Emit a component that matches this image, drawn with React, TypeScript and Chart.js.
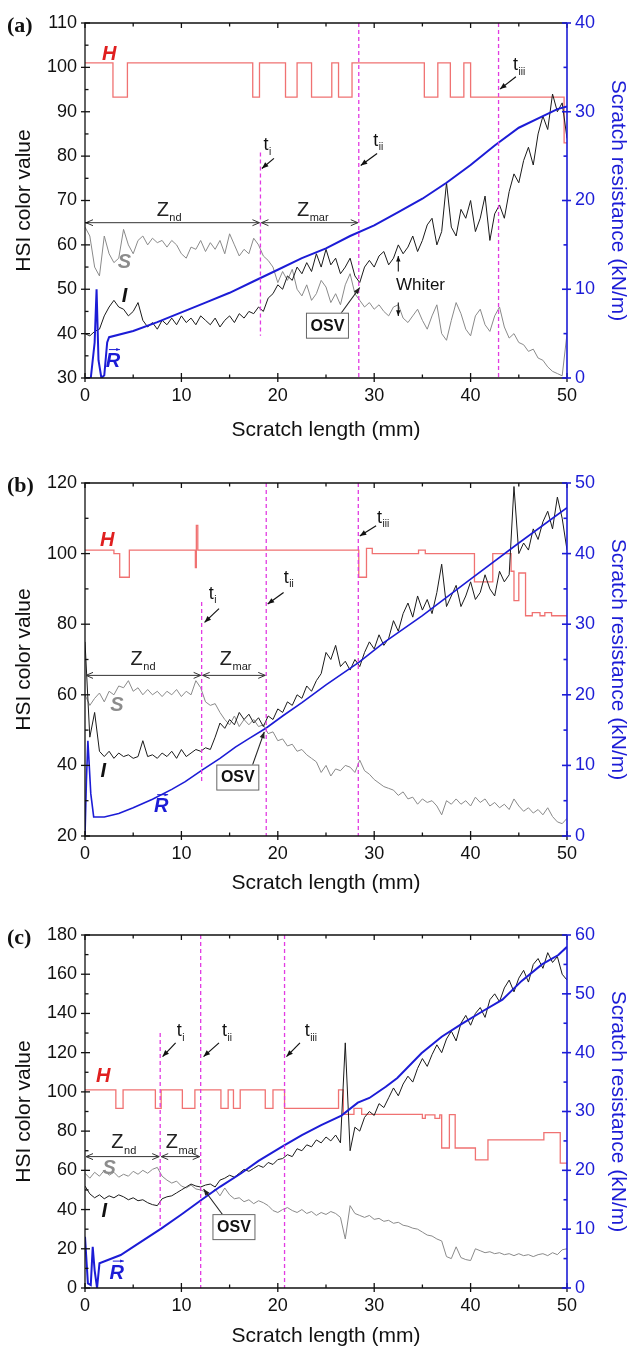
import React, { useEffect, useRef } from "react";
import { Chart, registerables } from "chart.js";
Chart.register(...registerables);

const FONT = '"Liberation Sans", Arial, sans-serif';
const BLUE = "#1c1cd6";
const RED_H = "#f07272";

// shared sampling positions along the scratch (mm)
const scratchMm = [
  0, 0.5, 1, 1.5, 2, 2.5, 3, 3.5, 4, 4.5,
  5, 5.5, 6, 6.5, 7, 7.5, 8, 8.5, 9, 9.5,
  10, 10.5, 11, 11.5, 12, 12.5, 13, 13.5, 14, 14.5,
  15, 15.5, 16, 16.5, 17, 17.5, 18, 18.5, 19, 19.5,
  20, 20.5, 21, 21.5, 22, 22.5, 23, 23.5, 24, 24.5,
  25, 25.5, 26, 26.5, 27, 27.5, 28, 28.5, 29, 29.5,
  30, 30.5, 31, 31.5, 32, 32.5, 33, 33.5, 34, 34.5,
  35, 35.5, 36, 36.5, 37, 37.5, 38, 38.5, 39, 39.5,
  40, 40.5, 41, 41.5, 42, 42.5, 43, 43.5, 44, 44.5,
  45, 45.5, 46, 46.5, 47, 47.5, 48, 48.5, 49, 49.5,
  50,
];

// ---------- panel (a) ----------
const hueA_x = [0, 2.9, 4.4, 17.4, 18.1, 20.8, 22.0, 23.5, 25.6, 26.3, 27.7, 35.2, 36.6, 37.9, 39.3, 40.0, 49.7, 50];
const hueA_y = [101, 93.3, 101, 93.3, 101, 93.3, 101, 93.3, 101, 93.3, 101, 93.3, 101, 93.3, 101, 93.3, 83, 83];
const satA = [
  64, 62, 55, 53, 62, 58, 56, 57, 63.5, 60,
  58, 61, 62, 60, 61.5, 60.5, 61, 59.5, 61, 60,
  58, 57, 59.5, 59, 61, 58.5, 60.5, 59, 61, 58,
  62.5, 60, 57.5, 59, 58, 61.5, 60, 57.5, 56.5, 55,
  51.5, 54, 52, 54.5, 50, 48.5, 51, 47.5, 49, 52,
  50.5, 47, 49, 46.5, 51, 53.5, 49, 47.5, 46, 47,
  45.5, 46.5, 45, 44, 46, 46.5, 43.5, 42.5, 44, 45.5,
  43, 41, 44, 46.5, 40, 38.5, 43, 47, 44.5, 41,
  39.5, 44, 45.5, 42, 40.5, 44, 46, 41.5, 39, 40,
  38, 37.5, 36, 36.5, 34.5, 34, 32.5, 31.5, 31, 30.5,
  40,
];
const intA = [
  40, 39.5, 40.5, 41, 44, 46, 47.5, 46, 45.5, 44,
  45, 47, 43, 41.5, 42.5, 41, 43, 42, 43.5, 42,
  44, 42.5, 43.5, 42, 44, 43, 42, 43.5, 41.5, 43,
  44, 42.5, 44.5, 43.5, 45, 44.5, 46, 45, 48, 49,
  51, 50, 53, 52, 55, 53.5, 56, 54, 58, 55,
  59, 55.5, 57, 53.5, 55, 57, 53, 51.5, 55, 56.5,
  55, 57.5, 58.5, 55.5, 57, 60, 58, 59.5, 62, 58.5,
  61, 64.5, 66, 60, 63, 74, 64, 62, 68, 66,
  70, 63, 66, 71, 61, 67, 69, 66, 72, 76,
  74, 79, 82, 78, 85, 89, 86, 94, 90, 92,
  84,
];
const resA_x = [0, 0.6, 1.0, 1.2, 1.4, 1.7, 2.0, 2.3, 2.5, 5, 7.5, 10, 12.5, 15, 17.5, 20, 22.5, 25, 27.5, 30, 32.5, 35, 37.5, 40, 42.5, 45, 47.5, 49, 50];
const resA_y = [0, 0, 4, 10, 2, 0, 0.3, 4, 4.6, 5.3, 6.3, 7.4, 8.5, 9.6, 10.9, 12.2, 13.5, 14.6, 16.0, 17.2, 18.7, 20.2, 22.0, 24.0, 26.2, 28.2, 29.5, 30.3, 30.6];

// ---------- panel (b) ----------
const hueB_x = [0, 3.0, 3.6, 4.6, 11.45, 11.55, 11.7, 28.4, 29.2, 29.8, 34.6, 35.3, 40.4, 42.3, 44.2, 44.5, 45.0, 45.7, 46.4, 47.2, 47.7, 48.4, 50];
const hueB_y = [101, 100, 93.3, 101, 96, 108, 101, 93.3, 101.5, 100, 101, 100, 92, 100, 95, 86.7, 94.5, 82.4, 83.3, 82.4, 83.3, 82.4, 82.4];
const satB = [
  60, 57, 59, 60.5, 58, 61, 60, 62.5, 62, 64,
  61, 62, 60, 61.5, 60, 61, 59.5, 61, 60, 61.5,
  59.5, 61, 60, 64, 62, 58, 57, 57.5, 55, 53,
  51.5, 54, 51, 53, 51.5, 53, 51, 51.5, 49, 49.5,
  47, 47.5, 45.5, 46, 44, 44.5, 43, 42, 41, 38,
  40, 37, 39, 38.5, 40, 39.5, 38, 41.5, 38.5, 37.5,
  36, 35, 34, 33.5, 33, 31.5, 32.5, 30.5, 31, 29,
  30.5, 29.5, 30, 28.5, 26, 30, 29, 30.5, 29, 30,
  28.5, 31, 29.5, 30.5, 28.5, 29.5, 28, 29, 27.5, 30.5,
  28.5, 27, 28, 26.5, 27.5, 26, 28, 25.5, 24, 23.5,
  25,
];
const intB = [
  75, 48, 55, 44, 42.5, 44, 42, 43.5, 42.5, 43,
  42, 42.5, 47, 42.5, 43, 42, 43.5, 42.5, 44, 42,
  44.5, 42.5, 43.5, 44.5, 44, 45, 44.5, 48, 52, 50.5,
  53, 51.5, 55, 53, 54.5, 52, 53.5, 51, 54, 53,
  56, 55, 58, 57, 60, 59, 62.5, 61, 64, 66,
  72, 70, 74, 68, 69.5, 67, 70, 68, 72, 75,
  73, 77, 74, 76, 81, 78, 83, 86, 82, 88,
  84, 87, 83, 89, 97, 85, 88, 91, 85, 88,
  92, 87, 89, 94, 90, 88, 95, 92, 94, 119,
  100, 103, 101, 107, 104, 109, 112, 107, 116, 110,
  101,
];
const resB_x = [0, 0.15, 0.3, 0.6, 0.9, 2.0, 3.5, 5, 7, 9, 10.4, 12.1, 14, 15.6, 17, 18.8, 20.5, 22.5, 25, 28.4, 31, 35, 40, 45, 50];
const resB_y = [0, 8, 13.5, 6, 2.7, 2.7, 3.2, 4.0, 5.2, 6.6, 7.7, 9.3, 11.0, 12.6, 13.8, 15.3, 17.0, 18.9, 21.4, 24.6, 27.4, 31.2, 36.4, 41.5, 46.5];

// ---------- panel (c) ----------
const hueC_x = [0, 3.2, 3.95, 7.3, 7.9, 10.1, 11.4, 14.1, 14.85, 15.4, 16.1, 18.7, 19.5, 20.7, 26.3, 26.8, 27.9, 28.7, 35.0, 35.3, 36.3, 36.8, 37.0, 37.8, 38.4, 40.5, 41.8, 47.6, 49.3, 50];
const hueC_y = [101, 91.6, 101, 91.6, 101, 91.6, 101, 91.6, 101, 91.6, 101, 91.6, 101, 91.6, 101, 88.5, 91.6, 88.5, 86.5, 88.3, 86.5, 88.3, 71.4, 88.4, 71.4, 65.3, 75.5, 79.2, 63.7, 63.7];
const satC = [
  58.5, 56, 59, 57, 60, 57.5, 59, 56.5, 58, 57,
  59.5, 58, 60, 58.5, 60.5, 61.5, 57, 55, 53.5, 54.5,
  52, 51, 52.5, 50.5, 50, 49, 48, 50.5, 47, 51,
  47.5, 45.5, 46, 44, 45, 43, 44.5, 43.5, 42, 39.5,
  38.5, 40, 41, 39.5, 38.5, 40, 38, 39, 37, 38.5,
  37.5, 39, 38, 36, 25, 42, 38, 37, 36, 37,
  35, 35.5, 34, 34.5, 33, 33.5, 32, 31.5, 30.5, 30,
  28.5, 27, 26.5, 25, 24, 16, 15, 21, 15.5, 14.5,
  14, 20, 19, 18, 18.5, 17.5, 18, 17, 17.5, 16.5,
  17.5, 16.5, 17, 16, 17, 17.5, 16.5, 18, 17, 19.5,
  20,
];
const intC = [
  52, 48, 46, 47.5, 45.5, 47, 46, 47.5, 46.5, 45,
  46, 44.5, 45, 43.5, 42.5, 42, 45.5, 46.5, 47, 48.5,
  50, 51.5, 53, 52, 51.5, 52.5, 53, 51.5, 55, 56,
  57.5, 56.5, 58.5, 60.5, 59.5, 61, 62.5, 61.5, 64, 63,
  65.5, 66, 68, 67, 71, 70, 73, 72, 75.5, 74,
  77, 75, 78, 74, 125, 70, 82, 80, 87, 90,
  88, 94, 92, 97, 102, 98, 104, 108, 105, 112,
  117, 113, 119, 124, 120, 127, 131, 126, 135, 139,
  134, 140, 143, 138, 147, 150, 146, 153, 157, 151,
  158, 162, 156, 165, 168, 163, 171, 166, 169, 160,
  157,
];
const resC_x = [0, 0.3, 0.6, 0.8, 1.0, 1.25, 1.5, 3.7, 5, 7.9, 10, 12.1, 14, 16.2, 18, 20.4, 22.5, 24.5, 26.6, 28.3, 29.5, 31.2, 32.4, 34.9, 37, 39, 41.2, 43.3, 45.3, 47.4, 49.1, 50];
const resC_y = [8.7, 0.8, 0.5, 7, 3, 0, 4.2, 5.6, 7.0, 10.1, 12.5, 15.0, 17.2, 19.5, 21.6, 24.0, 26.0, 27.7, 29.3, 31.5, 32.3, 34.2, 35.7, 39.9, 42.7, 44.8, 47.0, 49.0, 52.2, 55.0, 56.6, 58.0];

// ---------- layout / annotation configs ----------
const panels = [
  {
    tag: "(a)", top: 0, height: 445, xAxisH: 67, titlePad: 4.5,
    yMin: 30, yMax: 110, yStep: 10, rMax: 40, rWidth: 2,
    hx: hueA_x, hy: hueA_y, s: satA, i: intA, rx: resA_x, ry: resA_y,
    ann: {
      markers: [{ x: 18.2, top: 80.8, bottom: 39.5 }, { x: 28.4, top: 110, bottom: 30 }, { x: 42.9, top: 110, bottom: 30 }],
      tLabels: [
        { sub: "i", x: 18.9, y: 82.5, ax0: 19.6, ay0: 79.5, ax1: 18.35, ay1: 77.2 },
        { sub: "ii", x: 30.4, y: 83.5, ax0: 30.3, ay0: 80.6, ax1: 28.6, ay1: 77.9 },
        { sub: "iii", x: 45.0, y: 100.5, ax0: 44.7, ay0: 97.9, ax1: 43.05, ay1: 95.1 },
      ],
      zones: [
        { x0: 0, x1: 18.2, y: 65, sub: "nd", lx: 8.7, ly: 67.8 },
        { x0: 18.2, x1: 28.4, y: 65, sub: "mar", lx: 23.6, ly: 67.8 },
      ],
      names: { h: [2.5, 103], s: [4.1, 56], i: [4.1, 48.3], r: [2.9, 33.7] },
      osv: { bx: 25.1, by: 41.9, fx: 26.3, fy: 43.8, tx: 28.5, ty: 50.4 },
      whiter: { x: 34.8, y: 51, ax: 32.5, up: [54, 57.5], down: [47, 44] },
    },
  },
  {
    tag: "(b)", top: 460, height: 440, xAxisH: 64, titlePad: 6.5,
    yMin: 20, yMax: 120, yStep: 20, rMax: 50, rWidth: 1.6,
    hx: hueB_x, hy: hueB_y, s: satB, i: intB, rx: resB_x, ry: resB_y,
    ann: {
      markers: [{ x: 12.1, top: 86.3, bottom: 35.5 }, { x: 18.8, top: 120, bottom: 20 }, { x: 28.35, top: 120, bottom: 20 }],
      tLabels: [
        { sub: "i", x: 13.2, y: 88.6, ax0: 13.9, ay0: 84.4, ax1: 12.4, ay1: 80.5 },
        { sub: "ii", x: 21.1, y: 93.2, ax0: 20.6, ay0: 89, ax1: 18.95, ay1: 85.7 },
        { sub: "iii", x: 30.9, y: 110.2, ax0: 30.2, ay0: 107.9, ax1: 28.5, ay1: 105 },
      ],
      zones: [
        { x0: 0, x1: 12.1, y: 65.5, sub: "nd", lx: 6.0, ly: 70 },
        { x0: 12.1, x1: 18.8, y: 65.5, sub: "mar", lx: 15.6, ly: 70 },
      ],
      names: { h: [2.3, 103.6], s: [3.3, 57], i: [1.9, 38.2], r: [7.9, 28.3] },
      osv: { bx: 15.8, by: 36.7, fx: 17.3, fy: 39.5, tx: 18.6, ty: 49.5 },
      whiter: null,
    },
  },
  {
    tag: "(c)", top: 912, height: 435, xAxisH: 59, titlePad: 0,
    yMin: 0, yMax: 180, yStep: 20, rMax: 60, rWidth: 2,
    hx: hueC_x, hy: hueC_y, s: satC, i: intC, rx: resC_x, ry: resC_y,
    ann: {
      markers: [{ x: 7.8, top: 130, bottom: 30 }, { x: 12.0, top: 180, bottom: 0 }, { x: 20.7, top: 180, bottom: 0 }],
      tLabels: [
        { sub: "i", x: 9.9, y: 131, ax0: 9.4, ay0: 125, ax1: 8.05, ay1: 118 },
        { sub: "ii", x: 14.7, y: 131, ax0: 13.9, ay0: 125, ax1: 12.3, ay1: 118 },
        { sub: "iii", x: 23.4, y: 131, ax0: 22.3, ay0: 125, ax1: 20.9, ay1: 118 },
      ],
      zones: [
        { x0: 0, x1: 7.8, y: 67, sub: "nd", lx: 4.0, ly: 74 },
        { x0: 7.8, x1: 12.0, y: 67, sub: "mar", lx: 10.0, ly: 74 },
      ],
      names: { h: [1.9, 107.8], s: [2.5, 61], i: [2.0, 38.9], r: [3.3, 7.6] },
      osv: { bx: 15.4, by: 31.3, fx: 14.3, fy: 37.2, tx: 12.3, ty: 50.5 },
      whiter: null,
    },
  },
];

function line(ctx: CanvasRenderingContext2D, x0: number, y0: number, x1: number, y1: number) {
  ctx.beginPath();
  ctx.moveTo(x0, y0);
  ctx.lineTo(x1, y1);
  ctx.stroke();
}

function arrow(ctx: CanvasRenderingContext2D, x0: number, y0: number, x1: number, y1: number, head = 7) {
  line(ctx, x0, y0, x1, y1);
  const a = Math.atan2(y1 - y0, x1 - x0);
  ctx.beginPath();
  ctx.moveTo(x1, y1);
  ctx.lineTo(x1 - head * Math.cos(a - 0.38), y1 - head * Math.sin(a - 0.38));
  ctx.lineTo(x1 - head * Math.cos(a + 0.38), y1 - head * Math.sin(a + 0.38));
  ctx.closePath();
  ctx.fill();
}

function openHead(ctx: CanvasRenderingContext2D, x: number, y: number, dir: number) {
  const h = 7;
  line(ctx, x, y, x - dir * h, y - 3);
  line(ctx, x, y, x - dir * h, y + 3);
}

function subText(ctx: CanvasRenderingContext2D, main: string, sub: string, cx: number, cy: number, size: number, subSize: number) {
  ctx.font = `${size}px ${FONT}`;
  const w1 = ctx.measureText(main).width;
  ctx.font = `${subSize}px ${FONT}`;
  const w2 = ctx.measureText(sub).width;
  const x0 = cx - (w1 + w2) / 2;
  ctx.textAlign = "left";
  ctx.textBaseline = "middle";
  ctx.font = `${size}px ${FONT}`;
  ctx.fillText(main, x0, cy);
  ctx.font = `${subSize}px ${FONT}`;
  ctx.fillText(sub, x0 + w1 + 0.5, cy + size * 0.38);
}

function decorPlugin(p: any) {
  return {
    id: "decor",
    afterDatasetsDraw(chart: any) {
      const ctx: CanvasRenderingContext2D = chart.ctx;
      const xs = chart.scales.x, ys = chart.scales.y;
      const X = (v: number) => xs.getPixelForValue(v);
      const Y = (v: number) => ys.getPixelForValue(v);
      const a = p.ann;
      ctx.save();
      ctx.strokeStyle = "#e23be2";
      ctx.lineWidth = 1.3;
      ctx.setLineDash([4, 3]);
      for (const m of a.markers) line(ctx, X(m.x), Y(m.top), X(m.x), Y(m.bottom));
      ctx.setLineDash([]);

      ctx.fillStyle = "#111";
      ctx.strokeStyle = "#111";
      ctx.lineWidth = 1.2;
      for (const t of a.tLabels) {
        subText(ctx, "t", t.sub, X(t.x), Y(t.y), 18, 10);
        arrow(ctx, X(t.ax0), Y(t.ay0), X(t.ax1), Y(t.ay1), 7);
      }

      ctx.strokeStyle = "#333";
      ctx.fillStyle = "#222";
      ctx.lineWidth = 1;
      for (const z of a.zones) {
        const x0 = X(z.x0) + 1, x1 = X(z.x1) - 1, y = Y(z.y);
        line(ctx, x0, y, x1, y);
        openHead(ctx, x0, y, -1);
        openHead(ctx, x1, y, 1);
        subText(ctx, "Z", z.sub, X(z.lx), Y(z.ly), 20, 11);
      }

      const n = a.names;
      ctx.textAlign = "center";
      ctx.textBaseline = "middle";
      ctx.font = `italic bold 20px ${FONT}`;
      ctx.fillStyle = "#e01f1f";
      ctx.fillText("H", X(n.h[0]), Y(n.h[1]));
      ctx.fillStyle = "#8c8c8c";
      ctx.fillText("S", X(n.s[0]), Y(n.s[1]));
      ctx.fillStyle = "#111";
      ctx.fillText("I", X(n.i[0]), Y(n.i[1]));
      ctx.fillStyle = BLUE;
      const rx = X(n.r[0]), ry = Y(n.r[1]);
      ctx.fillText("R", rx, ry);
      ctx.strokeStyle = BLUE;
      ctx.lineWidth = 1;
      arrow(ctx, rx - 4, ry - 12, rx + 7, ry - 12, 4);

      const o = a.osv;
      ctx.strokeStyle = "#222";
      ctx.fillStyle = "#222";
      ctx.lineWidth = 1.1;
      arrow(ctx, X(o.fx), Y(o.fy), X(o.tx), Y(o.ty), 7);
      const bw = 42, bh = 25;
      const bx = X(o.bx) - bw / 2, by = Y(o.by) - bh / 2;
      ctx.fillStyle = "#fff";
      ctx.fillRect(bx, by, bw, bh);
      ctx.strokeStyle = "#666";
      ctx.lineWidth = 1;
      ctx.strokeRect(bx + 0.5, by + 0.5, bw, bh);
      ctx.fillStyle = "#111";
      ctx.font = `bold 16px ${FONT}`;
      ctx.textAlign = "center";
      ctx.textBaseline = "middle";
      ctx.fillText("OSV", X(o.bx) + 0.5, Y(o.by) + 1);

      if (a.whiter) {
        const w = a.whiter;
        ctx.font = `17px ${FONT}`;
        ctx.fillText("Whiter", X(w.x), Y(w.y));
        ctx.strokeStyle = "#111";
        ctx.lineWidth = 1.1;
        arrow(ctx, X(w.ax), Y(w.up[0]), X(w.ax), Y(w.up[1]), 6);
        arrow(ctx, X(w.ax), Y(w.down[0]), X(w.ax), Y(w.down[1]), 6);
      }
      ctx.restore();
    },
    afterDraw(chart: any) {
      const ctx: CanvasRenderingContext2D = chart.ctx;
      const ar = chart.chartArea;
      const xs = chart.scales.x, ys = chart.scales.y, rs = chart.scales.y1;
      ctx.save();
      ctx.strokeStyle = "#111";
      ctx.lineWidth = 1.3;
      ctx.beginPath();
      ctx.moveTo(ar.right, ar.top);
      ctx.lineTo(ar.left, ar.top);
      ctx.lineTo(ar.left, ar.bottom);
      ctx.lineTo(ar.right, ar.bottom);
      ctx.stroke();
      const xt = xs.ticks.map((t: any) => t.value);
      for (const v of xt) {
        const px = xs.getPixelForValue(v);
        line(ctx, px, ar.bottom + 4, px, ar.bottom - 5);
        line(ctx, px, ar.top, px, ar.top + 5);
      }
      for (let k = 0; k < xt.length - 1; k++) {
        const px = xs.getPixelForValue((xt[k] + xt[k + 1]) / 2);
        line(ctx, px, ar.bottom, px, ar.bottom - 3.5);
        line(ctx, px, ar.top, px, ar.top + 3.5);
      }
      const yt = ys.ticks.map((t: any) => t.value);
      for (const v of yt) {
        const py = ys.getPixelForValue(v);
        line(ctx, ar.left - 4, py, ar.left + 5, py);
      }
      for (let k = 0; k < yt.length - 1; k++) {
        const py = ys.getPixelForValue((yt[k] + yt[k + 1]) / 2);
        line(ctx, ar.left, py, ar.left + 3.5, py);
      }
      ctx.strokeStyle = BLUE;
      ctx.lineWidth = 1.6;
      line(ctx, ar.right, ar.top, ar.right, ar.bottom);
      const rt = rs.ticks.map((t: any) => t.value);
      for (const v of rt) {
        const py = rs.getPixelForValue(v);
        line(ctx, ar.right + 4, py, ar.right - 5, py);
      }
      for (let k = 0; k < rt.length - 1; k++) {
        const py = rs.getPixelForValue((rt[k] + rt[k + 1]) / 2);
        line(ctx, ar.right, py, ar.right - 3.5, py);
      }
      ctx.fillStyle = "#111";
      ctx.font = `bold 22px "Liberation Serif", "Times New Roman", serif`;
      ctx.textAlign = "left";
      ctx.textBaseline = "middle";
      ctx.fillText(p.tag, 7, ar.top + 3);
      ctx.restore();
    },
  };
}

function PanelChart({ p }: { p: any }) {
  const ref = useRef<HTMLCanvasElement>(null);
  useEffect(() => {
    const pts = (xs: number[], ys: number[]) => xs.map((x, k) => ({ x, y: ys[k] }));
    const chart = new Chart(ref.current as HTMLCanvasElement, {
      type: "line",
      data: {
        datasets: [
          { label: "R", data: pts(p.rx, p.ry), yAxisID: "y1", borderColor: BLUE, borderWidth: p.rWidth, pointRadius: 0, tension: 0, fill: false },
          { label: "I", data: pts(scratchMm, p.i), yAxisID: "y", borderColor: "#1a1a1a", borderWidth: 1, pointRadius: 0, tension: 0, fill: false },
          { label: "S", data: pts(scratchMm, p.s), yAxisID: "y", borderColor: "#8a8a8a", borderWidth: 1, pointRadius: 0, tension: 0, fill: false },
          { label: "H", data: pts(p.hx, p.hy), yAxisID: "y", borderColor: RED_H, borderWidth: 1.3, pointRadius: 0, stepped: "before", fill: false },
        ],
      } as any,
      options: {
        animation: false,
        responsive: false,
        maintainAspectRatio: false,
        layout: { padding: { top: 23, left: 0, right: 0, bottom: 0 } },
        plugins: { legend: { display: false }, tooltip: { enabled: false } },
        scales: {
          x: {
            type: "linear", min: 0, max: 50,
            grid: { display: false, drawTicks: false }, border: { display: false },
            ticks: { stepSize: 10, color: "#111", padding: 7, font: { family: FONT, size: 18 } },
            title: { display: true, text: "Scratch length (mm)", color: "#111", font: { family: FONT, size: 21, lineHeight: 1 }, padding: { top: 0, bottom: p.titlePad } },
            afterFit: (s: any) => { s.height = p.xAxisH; },
          },
          y: {
            type: "linear", position: "left", min: p.yMin, max: p.yMax,
            grid: { display: false, drawTicks: false }, border: { display: false },
            ticks: { stepSize: p.yStep, color: "#111", padding: 8, font: { family: FONT, size: 18 } },
            title: { display: true, text: "HSI color value", color: "#111", font: { family: FONT, size: 21, lineHeight: 1 }, padding: { top: 14, bottom: 0 } },
            afterFit: (s: any) => { s.width = 85; },
          },
          y1: {
            type: "linear", position: "right", min: 0, max: p.rMax,
            grid: { display: false, drawTicks: false }, border: { display: false },
            ticks: { stepSize: 10, color: BLUE, padding: 8, font: { family: FONT, size: 18 } },
            title: { display: true, text: "Scratch resistance (kN/m)", color: BLUE, font: { family: FONT, size: 21, lineHeight: 1 }, padding: { top: 2, bottom: 0 } },
            afterFit: (s: any) => { s.width = 63; },
          },
        },
      } as any,
      plugins: [decorPlugin(p)],
    });
    return () => chart.destroy();
  }, [p]);
  return (
    <canvas
      ref={ref}
      width={630}
      height={p.height}
      style={{ position: "absolute", left: 0, top: p.top, width: 630, height: p.height }}
    />
  );
}

export default function App() {
  return (
    <div style={{ position: "absolute", left: 0, top: 0, width: 630, height: 1347, background: "#fff", overflow: "hidden" }}>
      {panels.map((p) => (
        <PanelChart key={p.tag} p={p} />
      ))}
    </div>
  );
}
